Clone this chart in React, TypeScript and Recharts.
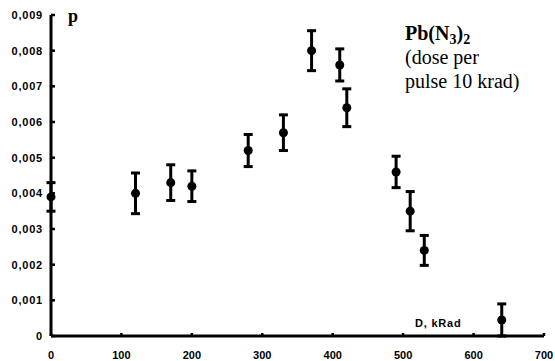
import React from 'react';
import { ScatterChart, Scatter, XAxis, YAxis, ZAxis, ErrorBar } from 'recharts';

const doses = [0, 120, 170, 200, 280, 330, 370, 410, 420, 490, 510, 530, 640];
const pValues = [0.0039, 0.004, 0.0043, 0.0042, 0.0052, 0.0057, 0.008, 0.0076, 0.0064, 0.0046, 0.0035, 0.0024, 0.00045];
const pErrors = [0.0004, 0.00057, 0.0005, 0.00043, 0.00045, 0.0005, 0.00056, 0.00045, 0.00053, 0.00044, 0.00055, 0.00042, 0.00045];
const xTicks = [0, 100, 200, 300, 400, 500, 600, 700];
const yTicks = [0, 0.001, 0.002, 0.003, 0.004, 0.005, 0.006, 0.007, 0.008, 0.009];

const data = doses.map((d, i) => ({ dose: d, p: pValues[i], err: pErrors[i] }));

const fmtY = (v: number) => (v === 0 ? '0' : v.toFixed(3).replace('.', ','));

const sans = "'Liberation Sans', Arial, sans-serif";
const serif = "'Liberation Serif', 'Times New Roman', serif";

export default function App() {
  return (
    <div style={{ position: 'absolute', left: 0, top: 0, width: 555, height: 361, background: '#fff' }}>
      <ScatterChart width={555} height={361} margin={{ top: 15, right: 11, bottom: 0, left: 0 }}>
        <XAxis
          type="number"
          dataKey="dose"
          domain={[0, 700]}
          ticks={xTicks}
          interval={0}
          height={25}
          axisLine={{ stroke: '#000', strokeWidth: 3 }}
          tickLine={{ stroke: '#000', strokeWidth: 2.5 }}
          tickSize={-3}
          tickMargin={18}
          tick={{ fill: '#000', fontSize: 11, fontWeight: 'bold', fontFamily: sans }}
        />
        <YAxis
          type="number"
          dataKey="p"
          domain={[0, 0.009]}
          ticks={yTicks}
          interval={0}
          width={51}
          tickFormatter={fmtY}
          axisLine={{ stroke: '#000', strokeWidth: 3 }}
          tickLine={{ stroke: '#000', strokeWidth: 2.5 }}
          tickSize={-4}
          tickMargin={12}
          tick={{ fill: '#000', fontSize: 11, fontWeight: 'bold', fontFamily: sans, letterSpacing: 0.8 }}
        />
        <ZAxis range={[80, 80]} />
        <Scatter data={data} fill="#000" isAnimationActive={false}>
          <ErrorBar dataKey="err" direction="y" width={4.5} stroke="#000" strokeWidth={3} />
        </Scatter>
      </ScatterChart>
      <svg
        width={555}
        height={361}
        style={{ position: 'absolute', left: 0, top: 0, pointerEvents: 'none' }}
      >
        <text x={68} y={22} fontFamily={serif} fontWeight="bold" fontSize={18} fill="#000">p</text>
        <text x={415} y={327} fontFamily={sans} fontWeight="bold" fontSize={11} letterSpacing={0.8} fill="#000">D, kRad</text>
        <text x={405} y={40} fontFamily={serif} fontWeight="bold" fontSize={20} fill="#000">
          Pb(N<tspan fontSize={14} dy={4}>3</tspan><tspan dy={-4}>)</tspan><tspan fontSize={14} dy={4}>2</tspan>
        </text>
        <text x={405} y={64} fontFamily={serif} fontSize={20} fill="#000">(dose per</text>
        <text x={405} y={88} fontFamily={serif} fontSize={20} fill="#000">pulse 10 krad)</text>
      </svg>
    </div>
  );
}
